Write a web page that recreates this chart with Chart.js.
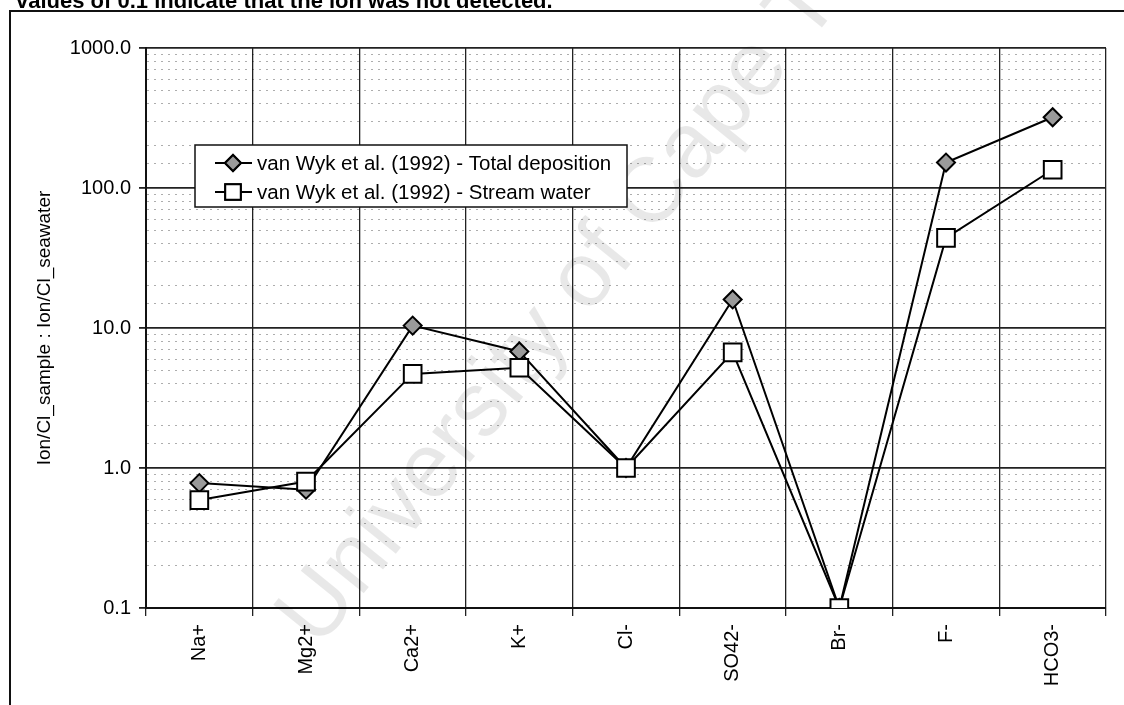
<!DOCTYPE html>
<html>
<head>
<meta charset="utf-8">
<script src="https://cdn.jsdelivr.net/npm/chart.js@4"></script>
<style>
  body { margin: 0; background: #fff; }
  canvas { display: block; }
</style>
</head>
<body>
<canvas id="chart" width="1124" height="705"></canvas>
<script>
// ion ratios (log scale)
var ions = ['Na+', 'Mg2+', 'Ca2+', 'K+', 'Cl-', 'SO42-', 'Br-', 'F-', 'HCO3-'];
var totalDeposition = [0.78, 0.70, 10.4, 6.8, 1.0, 16.0, 0.1, 152, 320];
var streamWater = [0.59, 0.80, 4.7, 5.2, 1.0, 6.7, 0.1, 44, 135];
var majorTicks = [0.1, 1, 10, 100, 1000];

var FONT = '"Liberation Sans", Arial, sans-serif';

function isMajor(v) {
  return majorTicks.indexOf(v) >= 0 ||
    Math.abs(Math.log10(v) - Math.round(Math.log10(v))) < 1e-6;
}

// page frame, clipped caption and the faint watermark
var decorations = {
  id: 'decorations',
  beforeDatasetsDraw: function(chart) {
    var ctx = chart.ctx;
    ctx.save();
    ctx.translate(318, 650);
    ctx.rotate(-51 * Math.PI / 180);
    ctx.font = '92px ' + FONT;
    ctx.fillStyle = 'rgba(0,0,0,0.09)';
    ctx.textAlign = 'left';
    ctx.textBaseline = 'alphabetic';
    ctx.fillText('University of Cape Town', 0, 0);
    ctx.restore();
  },
  afterDraw: function(chart) {
    var ctx = chart.ctx;
    ctx.save();
    ctx.strokeStyle = '#111';
    ctx.lineWidth = 2;
    ctx.beginPath();
    ctx.moveTo(10, 705);
    ctx.lineTo(10, 11);
    ctx.lineTo(1124, 11);
    ctx.stroke();
    ctx.fillStyle = '#000';
    ctx.font = 'bold 22px ' + FONT;
    ctx.textBaseline = 'alphabetic';
    ctx.fillText('values of 0.1 indicate that the ion was not detected.', 16, 8);
    ctx.restore();
  }
};

// legend box drawn inside the plot like the original
var boxLegend = {
  id: 'boxLegend',
  afterDatasetsDraw: function(chart) {
    var ctx = chart.ctx;
    var x0 = 195, y0 = 145, w = 432, h = 62;
    ctx.save();
    ctx.fillStyle = '#fff';
    ctx.fillRect(x0, y0, w, h);
    ctx.strokeStyle = '#111';
    ctx.lineWidth = 1.5;
    ctx.strokeRect(x0, y0, w, h);
    ctx.font = '20.5px ' + FONT;
    ctx.textBaseline = 'middle';
    chart.data.datasets.forEach(function(ds, i) {
      var y = y0 + 18 + i * 29;
      ctx.strokeStyle = '#000';
      ctx.lineWidth = 2;
      ctx.beginPath();
      ctx.moveTo(x0 + 20, y);
      ctx.lineTo(x0 + 57, y);
      ctx.stroke();
      Chart.helpers.drawPoint(ctx, {
        pointStyle: ds.pointStyle,
        radius: ds.pointStyle === 'rect' ? 11 : 8,
        borderWidth: 2
      }, x0 + 38, y);
      ctx.fillStyle = ds.pointBackgroundColor;
      ctx.strokeStyle = '#000';
      ctx.fill();
      ctx.stroke();
      ctx.fillStyle = '#000';
      ctx.fillText(ds.label, x0 + 62, y + 1);
    });
    ctx.restore();
  }
};

new Chart(document.getElementById('chart'), {
  type: 'line',
  data: {
    labels: ions,
    datasets: [{
      label: 'van Wyk et al. (1992) - Total deposition',
      data: totalDeposition,
      borderColor: '#000',
      borderWidth: 2,
      pointStyle: 'rectRot',
      pointRadius: 9,
      pointBorderWidth: 2,
      pointBorderColor: '#000',
      pointBackgroundColor: '#9a9a9a',
      tension: 0,
      order: 1
    }, {
      label: 'van Wyk et al. (1992) - Stream water',
      data: streamWater,
      borderColor: '#000',
      borderWidth: 2,
      pointStyle: 'rect',
      pointRadius: 12.5,
      pointBorderWidth: 2,
      pointBorderColor: '#000',
      pointBackgroundColor: '#fff',
      tension: 0,
      order: 0
    }]
  },
  options: {
    responsive: false,
    animation: false,
    layout: { padding: { top: 48, right: 18, left: 0, bottom: 0 } },
    plugins: {
      legend: { display: false },
      tooltip: { enabled: false }
    },
    scales: {
      x: {
        offset: true,
        grid: {
          offset: true,
          color: '#222',
          lineWidth: 1.3,
          tickLength: 8,
          tickColor: '#222'
        },
        border: { color: '#111', width: 2 },
        ticks: {
          color: '#000',
          font: { family: FONT, size: 20 },
          minRotation: 90,
          maxRotation: 90,
          padding: 8
        },
        afterFit: function(scale) { scale.height = 97; }
      },
      y: {
        type: 'logarithmic',
        min: 0.1,
        max: 1000,
        grid: {
          color: function(c) {
            return c.tick && isMajor(c.tick.value) ? '#222' : 'rgba(0,0,0,0.32)';
          },
          lineWidth: function(c) {
            return c.tick && isMajor(c.tick.value) ? 1.8 : 1;
          },
          tickLength: 7,
          tickColor: function(c) {
            return c.tick && isMajor(c.tick.value) ? '#222' : 'rgba(0,0,0,0)';
          }
        },
        border: {
          color: '#111',
          width: 2,
          dash: function(c) {
            return c.tick && !isMajor(c.tick.value) ? [2, 5] : [];
          }
        },
        ticks: {
          autoSkip: false,
          color: '#000',
          font: { family: FONT, size: 20 },
          padding: 8,
          callback: function(v) {
            return isMajor(v) ? Number(v).toFixed(1) : '';
          }
        },
        title: {
          display: true,
          text: 'Ion/Cl_sample : Ion/Cl_seawater',
          color: '#000',
          font: { family: FONT, size: 19 },
          padding: { top: 33, bottom: 0 }
        },
        afterFit: function(scale) { scale.width = 146; }
      }
    }
  },
  plugins: [decorations, boxLegend]
});
</script>
</body>
</html>
